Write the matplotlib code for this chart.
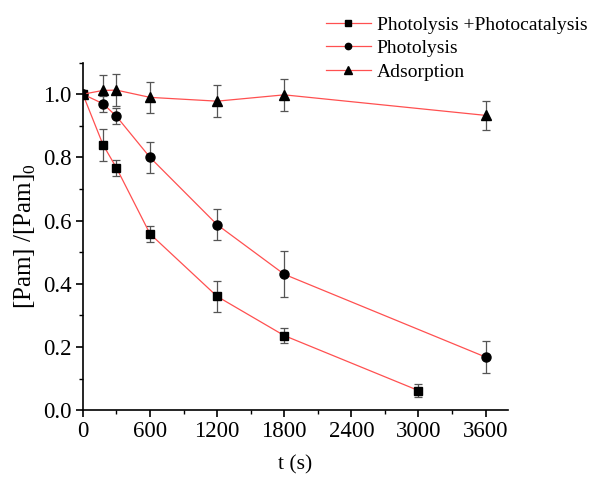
import matplotlib
matplotlib.use("Agg")
import matplotlib.pyplot as plt
from matplotlib.ticker import MultipleLocator, FormatStrFormatter

plt.rcParams["font.family"] = ["Liberation Serif", "DejaVu Serif"]
plt.rcParams["mathtext.fontset"] = "custom"
plt.rcParams["mathtext.rm"] = "Liberation Serif"

# data
t_ppc = [0, 180, 300, 600, 1200, 1800, 3000]
y_ppc = [1.0, 0.84, 0.767, 0.558, 0.36, 0.236, 0.062]
e_ppc = [0, 0.05, 0.025, 0.025, 0.05, 0.025, 0.02]

t_pl = [0, 180, 300, 600, 1200, 1800, 3600]
y_pl = [1.0, 0.97, 0.93, 0.80, 0.587, 0.43, 0.168]
e_pl = [0, 0.025, 0.025, 0.05, 0.05, 0.073, 0.05]

t_ad = [0, 180, 300, 600, 1200, 1800, 3600]
y_ad = [1.0, 1.012, 1.013, 0.99, 0.978, 0.998, 0.933]
e_ad = [0, 0.05, 0.05, 0.05, 0.05, 0.05, 0.045]

series = [
    ("Photolysis +Photocatalysis", t_ppc, y_ppc, e_ppc, "s", 5.5),
    ("Photolysis", t_pl, y_pl, e_pl, "o", 6.5),
    ("Adsorption", t_ad, y_ad, e_ad, "^", 7.5),
]

fig = plt.figure(figsize=(5.92, 4.78), dpi=100)
ax = fig.add_axes([0.140, 0.142, 0.718, 0.727])

handles = []
for label, t, y, e, marker, ms in series:
    ax.errorbar(t, y, yerr=e, fmt="none", ecolor="#555555", elinewidth=0.9,
                capsize=3, capthick=0.9, zorder=2)
    (h,) = ax.plot(t, y, color="#ff5050", linewidth=0.9, marker=marker,
                   markersize=ms, markerfacecolor="black",
                   markeredgecolor="black", label=label, zorder=3)
    handles.append(h)

ax.set_xlim(0, 3800)
ax.set_ylim(0, 1.1)
ax.xaxis.set_major_locator(MultipleLocator(600))
ax.xaxis.set_minor_locator(MultipleLocator(300))
ax.yaxis.set_major_locator(MultipleLocator(0.2))
ax.yaxis.set_minor_locator(MultipleLocator(0.1))
ax.yaxis.set_major_formatter(FormatStrFormatter("%.1f"))
ax.spines["top"].set_visible(False)
ax.spines["right"].set_visible(False)
for s in ("left", "bottom"):
    ax.spines[s].set_linewidth(1.2)
ax.tick_params(which="major", direction="out", length=5, width=1.2,
               labelsize=16.5, pad=3)
ax.tick_params(which="minor", direction="out", length=3, width=1.0)

ax.set_xlabel("t (s)", fontsize=15.5, labelpad=9)
ax.set_ylabel("[Pam] /[Pam]$_0$", fontsize=18, labelpad=4)

fig.legend(handles=handles, loc="upper right", bbox_to_anchor=(1.015, 0.995),
           frameon=False, fontsize=14, handlelength=2.3, handletextpad=0.3,
           labelspacing=0.3, borderaxespad=0.3, markerscale=0.7)

fig.savefig("out.png", dpi=100)
